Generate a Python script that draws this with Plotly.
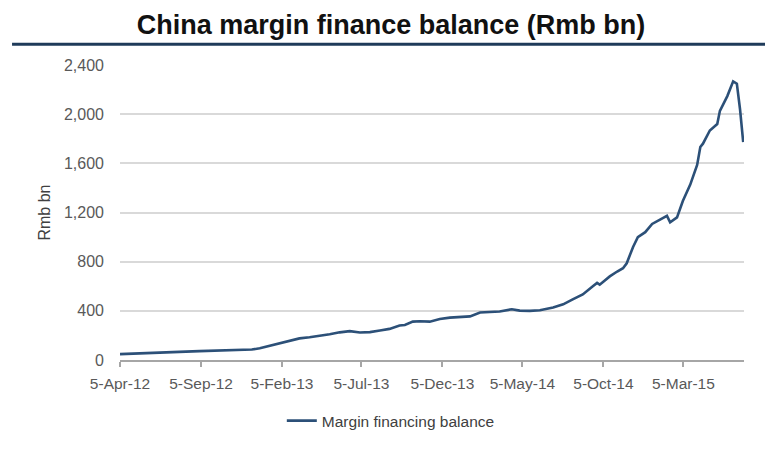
import plotly.graph_objects as go

# Data (Rmb bn)
dates = [
    "2012-04-05", "2012-05-12", "2012-06-19", "2012-07-26", "2012-09-02", "2012-10-10",
    "2012-11-17", "2012-12-10", "2012-12-25", "2013-01-13", "2013-01-31", "2013-02-19",
    "2013-03-10", "2013-03-29", "2013-04-17", "2013-05-06", "2013-05-25", "2013-06-13",
    "2013-07-02", "2013-07-21", "2013-08-09", "2013-08-27", "2013-09-15", "2013-09-25",
    "2013-10-10", "2013-10-23", "2013-11-11", "2013-11-30", "2013-12-19", "2014-01-07",
    "2014-01-26", "2014-02-14", "2014-03-05", "2014-03-23", "2014-04-15", "2014-04-30",
    "2014-05-19", "2014-06-07", "2014-07-02", "2014-07-21", "2014-08-08", "2014-08-27",
    "2014-09-15", "2014-09-23", "2014-09-28", "2014-10-17", "2014-10-31", "2014-11-11",
    "2014-11-18", "2014-11-30", "2014-12-09", "2014-12-23", "2015-01-05", "2015-01-20",
    "2015-02-02", "2015-02-08", "2015-02-21", "2015-03-04", "2015-03-18", "2015-03-31",
    "2015-04-06", "2015-04-11", "2015-04-24", "2015-05-08", "2015-05-13", "2015-05-27",
    "2015-06-01", "2015-06-07", "2015-06-14", "2015-06-20", "2015-06-26",
]
balance = [
    48, 52, 60, 66, 72, 78,
    82, 85, 95, 115, 136, 155,
    176, 185, 195, 210, 225, 235,
    224, 227, 240, 253, 280, 285,
    312, 315, 312, 333, 345, 352,
    355, 387, 390, 395, 413, 402,
    400, 405, 427, 453, 493, 533,
    600, 627, 613, 680, 720, 747,
    787, 920, 1000, 1040, 1107, 1139,
    1173, 1120, 1160, 1293, 1427, 1587,
    1733, 1760, 1867, 1920, 2027, 2147,
    2200, 2267, 2248, 2040, 1773,
]

tick_dates = ["2012-04-05", "2012-09-05", "2013-02-05", "2013-07-05",
              "2013-12-05", "2014-05-05", "2014-10-05", "2015-03-05"]
tick_labels = ["5-Apr-12", "5-Sep-12", "5-Feb-13", "5-Jul-13",
               "5-Dec-13", "5-May-14", "5-Oct-14", "5-Mar-15"]
y_ticks = [0, 400, 800, 1200, 1600, 2000, 2400]

FONT = "Liberation Sans, Arial, sans-serif"

fig = go.Figure()
fig.add_trace(go.Scatter(
    x=dates, y=balance, mode="lines", name="Margin financing balance",
    line=dict(color="#2c5078", width=2.6),
))

fig.update_layout(
    width=765, height=450,
    margin=dict(l=120, r=21, t=65, b=85),
    paper_bgcolor="white", plot_bgcolor="white",
    font=dict(family=FONT, size=16, color="#595959"),
    title=dict(
        text="<b>China margin finance balance (Rmb bn)</b>",
        font=dict(family=FONT, size=27, color="#111111"),
        x=391 / 765, xanchor="center", xref="container",
        y=1 - 25 / 450, yanchor="middle", yref="container",
    ),
    showlegend=True,
    legend=dict(
        orientation="h", x=0.434, xanchor="center", y=-0.207, yanchor="middle",
        font=dict(family=FONT, size=15.5, color="#404040"),
        bgcolor="rgba(0,0,0,0)",
    ),
    shapes=[dict(
        type="line", xref="paper", yref="paper",
        x0=-0.173, x1=1.04, y0=1.07, y1=1.07,
        line=dict(color="#1f3b5a", width=3),
    )],
)

fig.update_xaxes(
    type="date", automargin=False,
    range=["2012-04-05", "2015-06-27 12:00"],
    tickvals=tick_dates, ticktext=tick_labels,
    ticks="outside", ticklen=5, tickwidth=1.5, tickcolor="#a6a6a6",
    showline=True, linecolor="#a6a6a6", linewidth=1.5,
    showgrid=False, zeroline=False,
    ticklabelstandoff=4,
    tickfont=dict(family=FONT, size=15.5, color="#595959"),
)
fig.update_yaxes(
    automargin=False,
    range=[0, 2400], tickvals=y_ticks, tickformat=",",
    showgrid=True, gridcolor="#d9d9d9", gridwidth=1.5,
    showline=False, zeroline=False, ticks="",
    ticklabelstandoff=15,
    tickfont=dict(family=FONT, size=16, color="#595959"),
    title=dict(text="Rmb bn", standoff=9, font=dict(family=FONT, size=16, color="#404040")),
)

fig.write_html("out.html")
